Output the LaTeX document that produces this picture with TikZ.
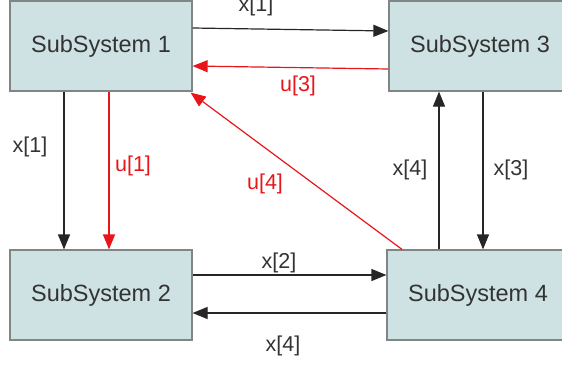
\documentclass[tikz,border=0pt]{standalone}
\usepackage{fontspec}
\setmainfont{Liberation Sans}
\usetikzlibrary{arrows.meta}
\definecolor{boxfill}{RGB}{207,226,227}
\definecolor{boxdraw}{RGB}{128,134,134}
\definecolor{txt}{RGB}{51,51,51}
\definecolor{ured}{RGB}{232,22,26}
\tikzset{
  sysbox/.style={draw=boxdraw, fill=boxfill, line width=1.2pt, minimum width=182pt, minimum height=90pt, inner sep=0pt, text=txt, font=\fontsize{23.5}{27}\selectfont},
  lab/.style={text=txt, font=\fontsize{21.5}{25}\selectfont, inner sep=0pt},
  rlab/.style={text=ured, font=\fontsize{21.5}{25}\selectfont, inner sep=0pt},
  conn/.style={draw=black!85, line width=1.2pt, -{Triangle[length=15pt,width=12pt]}},
  rconn/.style={draw=ured, line width=1.2pt, -{Triangle[length=15pt,width=12pt]}},
}
\begin{document}
\begin{tikzpicture}[x=1pt,y=-1pt]
\useasboundingbox (0,0) rectangle (562,365);
\clip (0,0) rectangle (562,365);
\node[sysbox] (ss1) at (101,46) {SubSystem 1};
\node[sysbox] (ss3) at (480,46) {SubSystem 3};
\node[sysbox] (ss2) at (101,295) {SubSystem 2};
\node[sysbox] (ss4) at (478,295) {SubSystem 4};
% connectors
\draw[conn] ([yshift=18pt]ss1.east) -- ([yshift=15pt]ss3.west);
\draw[rconn] ([yshift=-23pt]ss3.west) -- ([yshift=-20pt]ss1.east);
\draw[conn] ([xshift=-37pt]ss1.south) -- ([xshift=-37pt]ss2.north);
\draw[rconn] ([xshift=8pt]ss1.south) -- ([xshift=8pt]ss2.north);
\draw[rconn] ([xshift=-76pt]ss4.north) -- ([xshift=-2pt,yshift=-1pt]ss1.south east);
\draw[conn] ([xshift=-39pt]ss4.north) -- ([xshift=-41pt]ss3.south);
\draw[conn] ([xshift=3pt]ss3.south) -- ([xshift=5pt]ss4.north);
\draw[conn] ([yshift=20pt]ss2.east) -- ([yshift=20pt]ss4.west);
\draw[conn] ([yshift=-18pt]ss4.west) -- ([yshift=-18pt]ss2.east);
% labels
\node[lab] (l1) at (256,6) {x[1]};
\node[rlab] (l2) at (298,86) {u[3]};
\node[lab] (l3) at (30,147) {x[1]};
\node[rlab] (l4) at (133,166) {u[1]};
\node[rlab] (l5) at (265,184) {u[4]};
\node[lab] (l6) at (410,170) {x[4]};
\node[lab] (l7) at (511,170) {x[3]};
\node[lab] (l8) at (279,263) {x[2]};
\node[lab] (l9) at (283,346) {x[4]};
\end{tikzpicture}
\end{document}
